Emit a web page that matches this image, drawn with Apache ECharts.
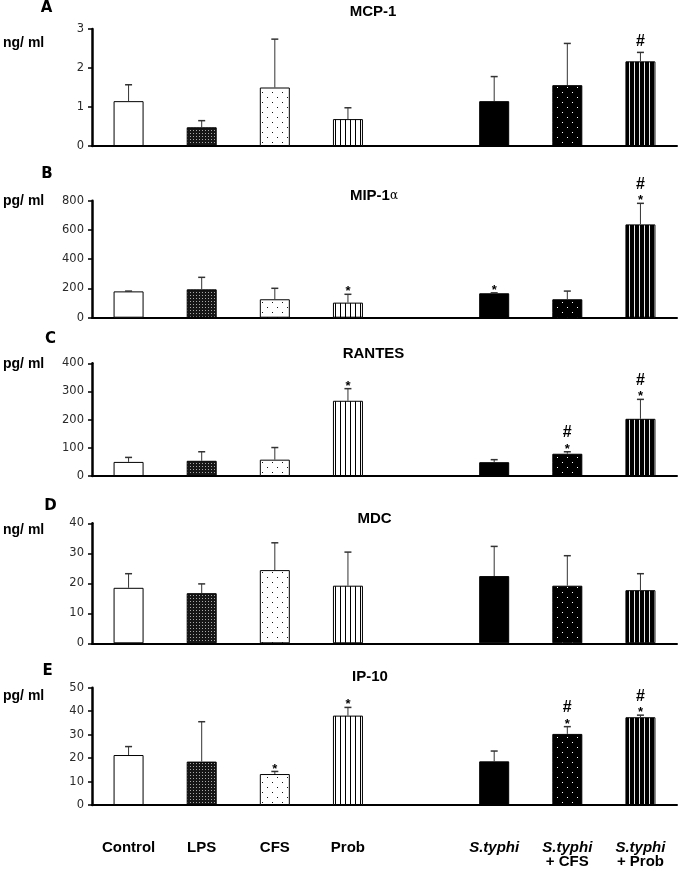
<!DOCTYPE html>
<html>
<head>
<meta charset="utf-8">
<script src="https://cdn.jsdelivr.net/npm/echarts@6/dist/echarts.min.js"></script>
<style>html,body{margin:0;padding:0;background:#fff;}#c{width:685px;height:871px;}</style>
</head>
<body>
<div id="c"></div>
<script>
// ---------- DATA ----------
const categories = ['Control', 'LPS', 'CFS', 'Prob', '', 'S.typhi', 'S.typhi\n+ CFS', 'S.typhi\n+ Prob'];

const mcp1 = [1.15, 0.48, 1.50, 0.69, '-', 1.15, 1.56, 2.17];
const mcp1Err = [0.42, 0.17, 1.24, 0.29, '-', 0.63, 1.07, 0.23];
const mcp1Sig = ['', '', '', '', '', '', '', '#'];

const mip1a = [180, 194, 126, 103, '-', 167, 126, 638];
const mip1aErr = [2, 82, 75, 57, '-', 3, 56, 144];
const mip1aSig = ['', '', '', '*', '', '*', '', '#*'];

const rantes = [50, 54, 58, 267, '-', 49, 79, 203];
const rantesErr = [16, 32, 43, 43, '-', 9, 7, 69];
const rantesSig = ['', '', '', '*', '', '', '#*', '#*'];

const mdc = [18.5, 16.7, 24.4, 19.2, '-', 22.4, 19.2, 17.7];
const mdcErr = [4.7, 3.1, 9.1, 11.2, '-', 9.9, 10.0, 5.5];
const mdcSig = ['', '', '', '', '', '', '', ''];

const ip10 = [21.3, 18.5, 13.2, 38.1, '-', 18.6, 30.3, 37.4];
const ip10Err = [3.6, 17.0, 1.1, 3.5, '-', 4.4, 3.1, 0.9];
const ip10Sig = ['', '', '*', '*', '', '', '#*', '#*'];

const panelLetters = ['A', 'B', 'C', 'D', 'E'];
const panelTitles = ['MCP-1', 'MIP-1α', 'RANTES', 'MDC', 'IP-10'];
const panelUnits = ['ng/ ml', 'pg/ ml', 'pg/ ml', 'ng/ ml', 'pg/ ml'];
const yMax = [3, 800, 400, 40, 50];
const yStep = [1, 200, 100, 10, 10];

// ---------- PATTERNS ----------
function makePattern(w, h, bg, fg, pts) {
  const c = document.createElement('canvas');
  c.width = w; c.height = h;
  const g = c.getContext('2d');
  g.fillStyle = bg; g.fillRect(0, 0, w, h);
  g.fillStyle = fg;
  pts.forEach(p => g.fillRect(p[0], p[1], p[2] || 1, p[3] || 1));
  return { image: c, repeat: 'repeat' };
}
const fills = [
  '#ffffff',
  makePattern(3, 3, '#161616', '#a8a8a8', [[1, 1]]),
  makePattern(10, 10, '#ffffff', '#111111', [[2, 2], [7, 7]]),
  makePattern(5, 5, '#ffffff', '#000000', [[0, 0, 1, 5]]),
  '#ffffff',
  '#000000',
  makePattern(10, 10, '#000000', '#ffffff', [[2, 2], [7, 7]]),
  makePattern(5, 5, '#000000', '#e8e8e8', [[4, 0, 1, 5]])
];

const panels = [
  { v: mcp1, e: mcp1Err, s: mcp1Sig, top: 29, bottom: 146 },
  { v: mip1a, e: mip1aErr, s: mip1aSig, top: 200.7, bottom: 317.7 },
  { v: rantes, e: rantesErr, s: rantesSig, top: 363.3, bottom: 476 },
  { v: mdc, e: mdcErr, s: mdcSig, top: 523.3, bottom: 643.3 },
  { v: ip10, e: ip10Err, s: ip10Sig, top: 687.7, bottom: 805 }
];

const FONT = "'Liberation Sans', Arial, sans-serif";
const grids = [], xAxes = [], yAxes = [], series = [];

panels.forEach((p, k) => {
  grids.push({ left: 92, width: 585, top: p.top, height: p.bottom - p.top });
  const last = k === panels.length - 1;
  xAxes.push({
    type: 'category', gridIndex: k, data: categories,
    axisLine: { lineStyle: { color: '#000', width: 2 } },
    axisTick: { show: false },
    axisLabel: {
      show: last, interval: 0, margin: 35.5, color: '#000',
      fontFamily: FONT, fontSize: 15, fontWeight: 'bold', lineHeight: 14.5,
      formatter: function (val) {
        if (val.indexOf('S.typhi') === 0) {
          const rest = val.split('\n')[1];
          return '{i|S.typhi}' + (rest ? '\n{b|' + rest + '}' : '');
        }
        return val;
      },
      rich: {
        i: { fontFamily: FONT, fontSize: 15, fontWeight: 'bold', fontStyle: 'italic', color: '#000', lineHeight: 14.5 },
        b: { fontFamily: FONT, fontSize: 15, fontWeight: 'bold', color: '#000', lineHeight: 14.5 }
      }
    },
    splitLine: { show: false }
  });
  yAxes.push({
    type: 'value', gridIndex: k, min: 0, max: yMax[k], interval: yStep[k],
    axisLine: { show: true, lineStyle: { color: '#000', width: 2.5 } },
    axisTick: { show: true, length: 4, lineStyle: { color: '#000', width: 1.5 } },
    axisLabel: { color: '#2a2a2a', fontFamily: "'DejaVu Sans', sans-serif", fontSize: 11.5, margin: 8 },
    splitLine: { show: false }
  });
  series.push({
    type: 'bar', xAxisIndex: k, yAxisIndex: k, barWidth: 30, z: 2,
    data: p.v.map((val, i) => ({
      value: val,
      itemStyle: { color: fills[i], borderColor: '#000', borderWidth: 1 }
    })),
    animation: false
  });
  const errData = p.v.map((val, i) => (val === '-' ? [i, '-', '-'] : [i, val, p.e[i]]));
  series.push({
    type: 'custom', xAxisIndex: k, yAxisIndex: k, z: 3,
    data: errData,
    encode: { x: 0, y: 1 },
    renderItem: function (params, api) {
      const i = api.value(0), val = api.value(1), er = api.value(2);
      if (isNaN(val)) return null;
      const b = api.coord([i, val]);
      const t = api.coord([i, val + er]);
      return {
        type: 'group',
        children: [
          { type: 'line', shape: { x1: b[0], y1: b[1], x2: t[0], y2: t[1] }, style: { stroke: '#333', lineWidth: 1 } },
          { type: 'line', shape: { x1: t[0] - 3.5, y1: t[1], x2: t[0] + 3.5, y2: t[1] }, style: { stroke: '#333', lineWidth: 1.5 } }
        ]
      };
    },
    animation: false
  });
  series.push({
    type: 'custom', xAxisIndex: k, yAxisIndex: k, z: 4,
    data: errData,
    encode: { x: 0, y: 1 },
    renderItem: function (params, api) {
      const i = api.value(0), val = api.value(1), er = api.value(2);
      const sig = p.s[params.dataIndex];
      if (isNaN(val) || !sig) return null;
      const t = api.coord([i, val + er]);
      const kids = [];
      let hashY = t[1] - 11;
      if (sig.indexOf('*') >= 0) {
        kids.push({ type: 'text', style: { text: '*', x: t[0], y: t[1] - 2.5, align: 'center', verticalAlign: 'middle',
          fontFamily: FONT, fontSize: 13, fontWeight: 'bold', fill: '#000' } });
        hashY = t[1] - 19;
      }
      if (sig.indexOf('#') >= 0) {
        kids.push({ type: 'text', style: { text: '#', x: t[0], y: hashY, align: 'center', verticalAlign: 'middle',
          fontFamily: FONT, fontSize: 16, fontWeight: 'bold', fill: '#000' } });
      }
      return { type: 'group', children: kids };
    },
    animation: false
  });
});

// ---------- TEXT ----------
const letterPos = [[46.5, 8.5], [47, 174], [50.5, 339.5], [50.5, 506.5], [47.5, 671.5]];
const titlePos = [[373, 11.5], [374, 196], [373.5, 354], [374.5, 519], [370, 676.5]];
const unitPos = [43, 201.5, 364, 530, 696.5];
const graphics = [];
panelLetters.forEach((L, k) => {
  graphics.push({ type: 'text', x: letterPos[k][0], y: letterPos[k][1],
    style: { text: L, align: 'center', verticalAlign: 'middle', font: "900 15px 'DejaVu Sans', sans-serif", fill: '#000' } });
  const tt = panelTitles[k];
  if (tt === 'MIP-1α') {
    graphics.push({ type: 'text', x: titlePos[k][0], y: titlePos[k][1],
      style: { text: '{a|MIP-1}{b|α}', align: 'center', verticalAlign: 'middle',
        rich: { a: { fontFamily: FONT, fontSize: 15, fontWeight: 'bold', fill: '#000' },
                b: { fontFamily: "'DejaVu Serif', serif", fontSize: 12, fill: '#000' } } } });
  } else {
    graphics.push({ type: 'text', x: titlePos[k][0], y: titlePos[k][1],
      style: { text: tt, align: 'center', verticalAlign: 'middle', font: "bold 15px " + FONT, fill: '#000' } });
  }
  graphics.push({ type: 'text', x: 3, y: unitPos[k],
    style: { text: panelUnits[k], align: 'left', verticalAlign: 'middle', font: "bold 14px " + FONT, fill: '#000' } });
});

const chart = echarts.init(document.getElementById('c'), null, { renderer: 'canvas' });
chart.setOption({
  animation: false,
  backgroundColor: '#fff',
  grid: grids, xAxis: xAxes, yAxis: yAxes, series: series,
  graphic: graphics
});
</script>
</body>
</html>
